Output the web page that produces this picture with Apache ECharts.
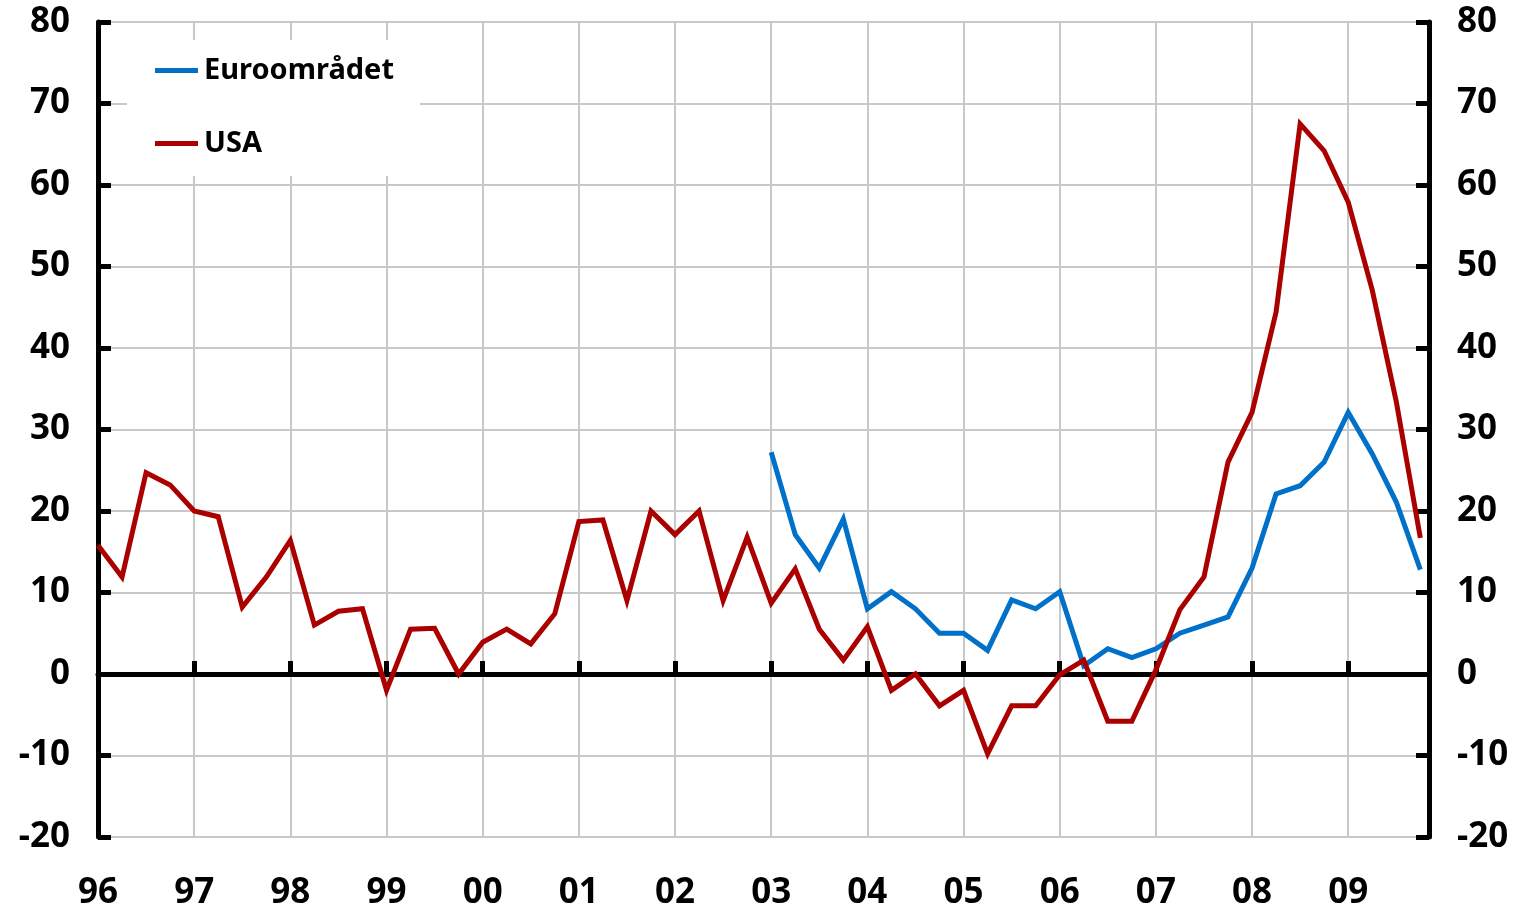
<!DOCTYPE html>
<html>
<head>
<meta charset="utf-8">
<script src="https://cdn.jsdelivr.net/npm/echarts@6/dist/echarts.min.js"></script>
<style>
html,body{margin:0;padding:0;background:#fff;}
#chart{width:1522px;height:908px;}
</style>
</head>
<body>
<div id="chart"></div>
<script>
// Quarterly data, first quarter 1996 Q1
const startYear = 1996;
const usaValues = [
  15.8, 11.9, 24.7, 23.2,   // 1996
  20.0, 19.3, 8.2, 11.9,    // 1997
  16.4, 6.0, 7.7, 8.0,      // 1998
  -2.0, 5.5, 5.6, 0.0,      // 1999
  3.9, 5.5, 3.7, 7.4,       // 2000
  18.7, 18.9, 9.0, 20.0,    // 2001
  17.1, 20.0, 9.0, 16.8,    // 2002
  8.7, 12.9, 5.5, 1.7,      // 2003
  5.8, -2.0, 0.0, -3.9,     // 2004
  -2.0, -9.8, -3.9, -3.9,   // 2005
  -0.1, 1.7, -5.8, -5.8,    // 2006
  0.5, 7.9, 11.9, 26.0,     // 2007
  32.1, 44.4, 67.5, 64.2,   // 2008
  57.9, 47.1, 33.4, 16.7    // 2009
];
// Euro area starts 2003 Q1
const euroStartYear = 2003;
const euroValues = [
  27.2, 17.1, 13.0, 19.0,   // 2003
  8.0, 10.1, 8.0, 5.0,      // 2004
  5.0, 2.9, 9.1, 8.0,       // 2005
  10.1, 1.0, 3.1, 2.0,      // 2006
  3.1, 5.0, 6.0, 7.0,       // 2007
  13.0, 22.1, 23.1, 26.0,   // 2008
  32.1, 27.0, 21.1, 12.8    // 2009
];
const seriesNames = ['Euroområdet', 'USA'];
const yTicks = [-20, -10, 0, 10, 20, 30, 40, 50, 60, 70, 80];

function toPairs(start, vals) {
  return vals.map((v, i) => [start + i * 0.25, v]);
}

const FONT = '"Noto Sans", "Open Sans", sans-serif';
const xMin = 1996, xMax = 2009.84;
const gridColor = '#c8c8c8';

const chart = echarts.init(document.getElementById('chart'), null, {renderer: 'canvas'});
const yAxisCommon = {
  type: 'value',
  min: yTicks[0],
  max: yTicks[yTicks.length - 1],
  interval: 10,
  axisLine: {show: true, lineStyle: {color: '#000', width: 5}},
  axisTick: {show: true, inside: true, length: 13, lineStyle: {color: '#000', width: 5}},
  axisLabel: {color: '#000', fontFamily: FONT, fontWeight: 'bold', fontSize: 35, margin: 28},
};
chart.setOption({
  animation: false,
  backgroundColor: '#fff',
  grid: {left: 98, right: 93, top: 22, bottom: 71, containLabel: false, outerBoundsMode: 'none'},
  legend: {
    orient: 'vertical',
    left: 127, top: 40,
    data: seriesNames,
    icon: 'rect',
    itemWidth: 43, itemHeight: 5,
    itemGap: 44,
    padding: [16, 26, 18, 28],
    backgroundColor: '#fff',
    textStyle: {color: '#000', fontFamily: FONT, fontWeight: 'bold', fontSize: 29, padding: [0, 0, 0, 1]}
  },
  xAxis: [
    {
      type: 'value', min: xMin, max: xMax, interval: 1,
      position: 'bottom',
      axisLine: {show: false, onZero: false},
      axisTick: {show: false},
      splitLine: {show: true, lineStyle: {color: gridColor, width: 2}},
      axisLabel: {
        color: '#000', fontFamily: FONT, fontWeight: 'bold', fontSize: 35, margin: 39,
        showMaxLabel: false,
        formatter: v => Number.isInteger(v) ? String(v % 100).padStart(2, '0') : ''
      }
    },
    {
      type: 'value', min: xMin, max: xMax, interval: 1,
      position: 'bottom',
      axisLine: {show: true, onZero: true, onZeroAxisIndex: 0, lineStyle: {color: '#000', width: 5}},
      axisTick: {show: true, inside: true, length: 13, lineStyle: {color: '#000', width: 5}},
      splitLine: {show: false},
      axisLabel: {show: false}
    }
  ],
  yAxis: [
    Object.assign({}, yAxisCommon, {
      position: 'left',
      splitLine: {show: true, lineStyle: {color: gridColor, width: 2}}
    }),
    Object.assign({}, yAxisCommon, {
      position: 'right',
      splitLine: {show: false}
    })
  ],
  series: [
    {
      name: seriesNames[0], type: 'line', xAxisIndex: 0, yAxisIndex: 0,
      data: toPairs(euroStartYear, euroValues),
      showSymbol: false, symbol: 'none',
      lineStyle: {color: '#0070C8', width: 5, join: 'miter'},
      itemStyle: {color: '#0070C8'},
      z: 3
    },
    {
      name: seriesNames[1], type: 'line', xAxisIndex: 0, yAxisIndex: 0,
      data: toPairs(startYear, usaValues),
      showSymbol: false, symbol: 'none',
      lineStyle: {color: '#AA0000', width: 5, join: 'miter'},
      itemStyle: {color: '#AA0000'},
      z: 4
    }
  ]
});
</script>
</body>
</html>
